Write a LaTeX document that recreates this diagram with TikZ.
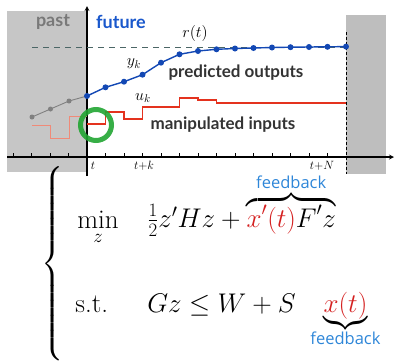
\RequirePackage{fix-cm}
\documentclass[tikz,border=0pt]{standalone}
\usepackage{amsmath}
\usepackage{fontspec}
\newfontfamily\labelfont{Lato}
\newfontfamily\notefont{Open Sans}
\definecolor{pastgray}{HTML}{C6C6C6}
\definecolor{endgray}{HTML}{BEBEBE}
\definecolor{refcol}{HTML}{4B6666}
\definecolor{outblue}{HTML}{1348B4}
\definecolor{futblue}{HTML}{1A58CC}
\definecolor{inred}{HTML}{E4321E}
\definecolor{oldred}{HTML}{F08A78}
\definecolor{ringgreen}{HTML}{21A532}
\definecolor{txtdark}{HTML}{333333}
\definecolor{notecol}{HTML}{2E86D8}
\definecolor{mathred}{HTML}{D42020}
\tikzset{
  boldlbl/.style={font=\labelfont\bfseries\fontsize{17}{19}\selectfont,text=txtdark,inner sep=0pt},
  timelbl/.style={font=\fontsize{12}{14}\selectfont,inner sep=0pt},
  mathlbl/.style={font=\fontsize{16}{18}\selectfont,inner sep=0pt},
  formula/.style={font=\fontsize{27}{32}\selectfont,inner sep=0pt,anchor=base west},
  tickmark/.style={line width=0.8pt},
  dot/.style={circle,fill,inner sep=0pt,minimum size=5pt}
}
\newcommand{\fb}{\text{\makebox[0pt]{\fontsize{16.5}{18}\notefont\selectfont\color{notecol}feedback}}}
\begin{document}
\begin{tikzpicture}[x=1pt,y=-1pt,line width=0.8pt]
  \useasboundingbox (0,0) rectangle (394,360);
  % shaded past and end of horizon
  \fill[pastgray] (7,11) rectangle (87,172);
  \fill[endgray] (346,15) rectangle (386,174);
  \draw[densely dashed,line width=0.6pt] (346,32) -- (346,174);

  % axes
  \draw[-stealth,line width=1.2pt] (7,157) -- (394,157);
  \draw[-stealth,line width=1.2pt] (87,176) -- (87,6);
  \foreach \i in {-4,...,13}
    \draw[tickmark] (87+18.5*\i,153) -- (87+18.5*\i,157);

  % reference
  \draw[refcol,dashed,dash pattern=on 6pt off 5pt,line width=1pt] (32,47) -- (346,47);

  % past outputs
  \draw[gray,line width=0.9pt] (32,117) -- (50.5,109) -- (69,101) -- (87,96);
  \foreach \px/\py in {32/117,50.5/109,69/101}
    \node[dot,gray] at (\px,\py) {};

  % predicted outputs
  \draw[outblue,line width=1.4pt] (87,96) -- (105.5,87.3) -- (124,81.7) -- (142.5,74.7)
    -- (161,62.7) -- (179.5,54.3) -- (198,51) -- (216.5,49.3) -- (235,48.5)
    -- (253.5,48) -- (272,47.5) -- (290.5,47.2) -- (309,47) -- (327.5,46.8) -- (346,46.6);
  \foreach \px/\py in {87/96,105.5/87.3,124/81.7,142.5/74.7,161/62.7,179.5/54.3,198/51,
    216.5/49.3,235/48.5,253.5/48,272/47.5,290.5/47.2,309/47,327.5/46.8,346/46.6}
    \node[dot,outblue,minimum size=6pt] at (\px,\py) {};

  % inputs
  \draw[oldred,line width=1pt] (32,125) -- (50.5,125) -- (50.5,138) -- (69,138)
    -- (69,116) -- (87,116);
  \draw[inred,line width=1.4pt] (87,124) -- (105.5,124) -- (105.5,112) -- (124,112)
    -- (124,119) -- (142.5,119) -- (142.5,107) -- (179.5,107) -- (179.5,98)
    -- (198,98) -- (198,100) -- (216.5,100) -- (216.5,103) -- (346,103);

  % first move
  \draw[ringgreen,line width=5pt,opacity=0.9] (96,125) circle[radius=15.5];

  % labels
  \node[font=\labelfont\bfseries\fontsize{18}{20}\selectfont,text=gray!95!black,inner sep=0pt] (past) at (53,22) {past};
  \node[font=\labelfont\bfseries\fontsize{18}{20}\selectfont,text=futblue,inner sep=0pt] (future) at (121,22) {future};
  \node[mathlbl] (rt) at (195,33) {$r(t)$};
  \node[mathlbl] (yk) at (134,64) {$y_k$};
  \node[mathlbl] (uk) at (143,98) {$u_k$};
  \node[boldlbl] (predicted) at (236,73) {predicted outputs};
  \node[boldlbl] (manipulated) at (223,125) {manipulated inputs};
  \node[timelbl] (tnow) at (93,166) {$t$};
  \node[timelbl] (tk) at (144,166) {$t$+$k$};
  \node[timelbl] (tN) at (322,166) {$t$+$N$};

  % optimization problem
  \node[inner sep=0pt,font=\fontsize{24}{28}\selectfont] (brace) at (53,264)
    {$\left\{\vrule width 0pt height 92pt depth 92pt\right.$};
  \node[formula] (min) at (77,228) {$\min\limits_z$};
  \node[formula] (cost) at (147,227)
    {$\frac12 z'Hz + \overbrace{\textcolor{mathred}{x'(t)}F'z\vphantom{\big(}}^{\raisebox{2pt}{\fb}}$};
  \node[formula] (st) at (75,312) {s.t.};
  \node[formula] (cons) at (147,312)
    {$Gz \le W + S\hspace{0.85em}\underbrace{\textcolor{mathred}{x(t)}}_{\fb}$};
\end{tikzpicture}
\end{document}
